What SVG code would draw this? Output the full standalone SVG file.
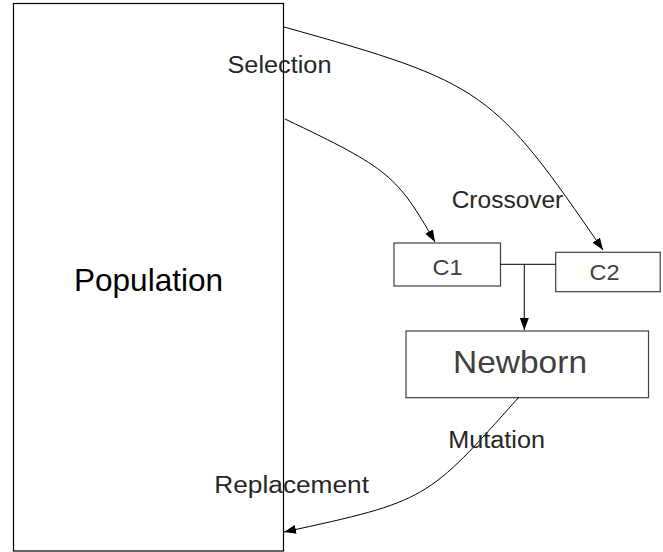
<svg xmlns="http://www.w3.org/2000/svg" width="663" height="552" viewBox="0 0 663 552">
<style>
  .box { fill: #ffffff; stroke: #404040; stroke-width: 1.2; }
  .pop { fill: #ffffff; stroke: #000000; stroke-width: 1.2; }
  .conn { fill: none; stroke: #000000; stroke-width: 1; }
  text { font-family: "Liberation Sans", Arial, sans-serif; }
  .big { font-size: 32px; }
  .lbl { font-size: 23px; fill: #262626; }
  .small { font-size: 22px; fill: #404040; }
</style>
<defs>
  <marker id="arrow" markerUnits="userSpaceOnUse" markerWidth="12" markerHeight="9" refX="12" refY="4.5" orient="auto" viewBox="0 0 12 9">
    <path d="M0,0 L12,4.5 L0,9 z" fill="#000000"/>
  </marker>
</defs>
<rect width="663" height="552" fill="#ffffff"/>

<g id="population">
  <rect class="pop" x="13.5" y="3.5" width="270" height="547.5"/>
  <text class="big" x="74" y="291" fill="#000000" textLength="149" lengthAdjust="spacingAndGlyphs">Population</text>
</g>

<g id="c1">
  <rect class="box" x="394" y="243" width="106.5" height="43"/>
  <text class="small" x="432.5" y="275" textLength="30" lengthAdjust="spacingAndGlyphs">C1</text>
</g>

<g id="c2">
  <rect class="box" x="555.7" y="252.3" width="104.5" height="39.4"/>
  <text class="small" x="589.5" y="280" textLength="30" lengthAdjust="spacingAndGlyphs">C2</text>
</g>

<g id="newborn">
  <rect class="box" x="406" y="331" width="242.5" height="66.7"/>
  <text class="big" x="453" y="372.7" fill="#404040" textLength="134" lengthAdjust="spacingAndGlyphs">Newborn</text>
</g>

<g id="connectors">
  <path class="conn" d="M284,27 C485,83 493,90 603,250" marker-end="url(#arrow)"/>
  <path class="conn" d="M285,119 C390,169 397,176 435,242" marker-end="url(#arrow)"/>
  <path class="conn" d="M500,264.3 L555.7,264.3"/>
  <path class="conn" d="M524.3,264.3 L524.3,330" marker-end="url(#arrow)"/>
  <path class="conn" d="M519,397 C427,500 428,501 284,532" marker-end="url(#arrow)"/>
</g>

<g id="labels">
  <text class="lbl" x="227.5" y="73.3" textLength="104" lengthAdjust="spacingAndGlyphs">Selection</text>
  <text class="lbl" x="451.7" y="208.3" textLength="111.6" lengthAdjust="spacingAndGlyphs">Crossover</text>
  <text class="lbl" x="448.3" y="447.7" textLength="96.7" lengthAdjust="spacingAndGlyphs">Mutation</text>
  <text class="lbl" x="214.3" y="493.3" textLength="154.7" lengthAdjust="spacingAndGlyphs">Replacement</text>
</g>
</svg>
